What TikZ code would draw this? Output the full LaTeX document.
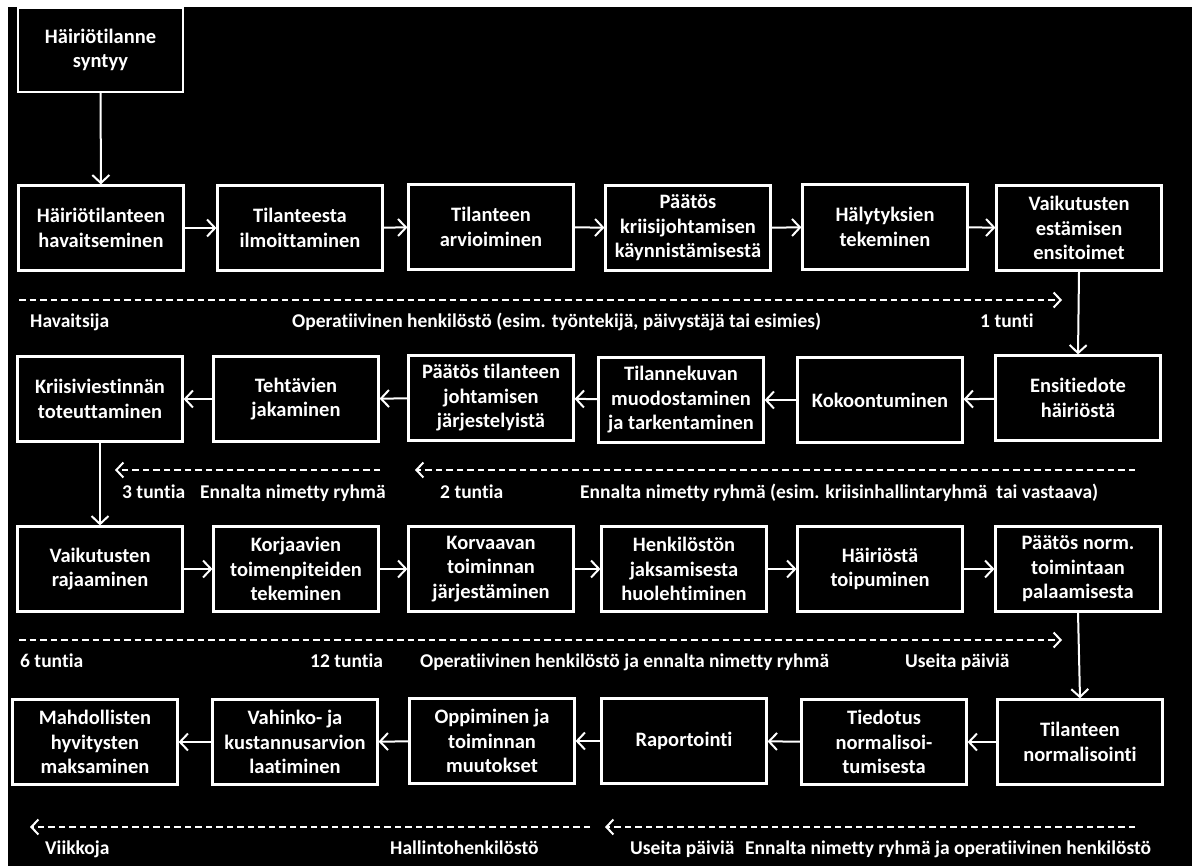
\documentclass[tikz,border=0pt]{standalone}
\usepackage{fontspec}
\setmainfont{Carlito}[Ligatures=NoCommon]
\usetikzlibrary{arrows.meta}
\begin{document}
\begin{tikzpicture}[x=1pt,y=-1pt,
  stepbox/.style={draw=white, line width=2.2pt, fill=black, text=white, minimum width=165pt, minimum height=85pt, inner sep=2pt, align=center, font=\bfseries\fontsize{20.5}{24.5}\selectfont},
  flow/.style={draw=white, line width=2pt, -{Straight Barb[length=8pt,width=17pt,line width=2pt]}},
  timeline/.style={draw=white, line width=2pt, dash pattern=on 6.5pt off 4pt, -{Straight Barb[length=7pt,width=15pt,line width=2pt]}},
  lbl/.style={text=white, anchor=base west, inner sep=0pt, font=\bfseries\fontsize{19.5}{23}\selectfont}]
\useasboundingbox (0,0) rectangle (1198,866);
\fill[white] (0,0) rectangle (1198,866);
\fill[black] (8,7) rectangle (1192,866);

% top
\node[stepbox, minimum height=84pt] (s0) at (100.5,50) {Häiriötilanne\\syntyy};

% row 1
\node[stepbox] (a1) at (101,228) {Häiriötilanteen\\havaitseminen};
\node[stepbox] (a2) at (300,228) {Tilanteesta\\ilmoittaminen};
\node[stepbox] (a3) at (491,227) {Tilanteen\\arvioiminen};
\node[stepbox] (a4) at (688,228) {Päätös\\kriisijohtamisen\\käynnistämisestä};
\node[stepbox] (a5) at (885,227) {Hälytyksien\\tekeminen};
\node[stepbox] (a6) at (1079,228) {Vaikutusten\\estämisen\\ensitoimet};

% row 2
\node[stepbox] (b1) at (100,399) {Kriisiviestinnän\\toteuttaminen};
\node[stepbox] (b2) at (296,399) {Tehtävien\\jakaminen};
\node[stepbox] (b3) at (491,398) {Päätös tilanteen\\johtamisen\\järjestelyistä};
\node[stepbox] (b4) at (681,400) {Tilannekuvan\\muodostaminen\\ja tarkentaminen};
\node[stepbox] (b5) at (880,400) {Kokoontuminen};
\node[stepbox] (b6) at (1078,398) {Ensitiedote\\häiriöstä};

% row 3
\node[stepbox] (c1) at (100,569) {Vaikutusten\\rajaaminen};
\node[stepbox] (c2) at (296,569) {Korjaavien\\toimenpiteiden\\tekeminen};
\node[stepbox] (c3) at (491,569) {Korvaavan\\toiminnan\\järjestäminen};
\node[stepbox] (c4) at (684,569) {Henkilöstön\\jaksamisesta\\huolehtiminen};
\node[stepbox] (c5) at (880,569) {Häiriöstä\\toipuminen};
\node[stepbox] (c6) at (1078,569) {Päätös norm.\\toimintaan\\palaamisesta};

% row 4
\node[stepbox] (d1) at (95,742) {Mahdollisten\\hyvitysten\\maksaminen};
\node[stepbox] (d2) at (295,742) {Vahinko- ja\\kustannusarvion\\laatiminen};
\node[stepbox] (d3) at (492,741) {Oppiminen ja\\toiminnan\\muutokset};
\node[stepbox] (d4) at (684,741) {Raportointi};
\node[stepbox] (d5) at (884,742) {Tiedotus\\normalisoi-\\tumisesta};
\node[stepbox] (d6) at (1080,742) {Tilanteen\\normalisointi};

% flow arrows
\draw[flow] (s0) -- (a1);
\draw[flow] (a1) -- (a2);
\draw[flow] (a2) -- (a3);
\draw[flow] (a3) -- (a4);
\draw[flow] (a4) -- (a5);
\draw[flow] (a5) -- (a6);
\draw[flow] (a6.south) -- (b6.north);
\draw[flow] (b6) -- (b5);
\draw[flow] (b5) -- (b4);
\draw[flow] (b4) -- (b3);
\draw[flow] (b3) -- (b2);
\draw[flow] (b2) -- (b1);
\draw[flow] (b1.south) -- (c1.north);
\draw[flow] (c1) -- (c2);
\draw[flow] (c2) -- (c3);
\draw[flow] (c3) -- (c4);
\draw[flow] (c4) -- (c5);
\draw[flow] (c5) -- (c6);
\draw[flow] (c6.south) -- (d6.north);
\draw[flow] (d6) -- (d5);
\draw[flow] (d5) -- (d4);
\draw[flow] (d4) -- (d3);
\draw[flow] (d3) -- (d2);
\draw[flow] (d2) -- (d1);

% timelines
\coordinate (t1s) at (19,300);  \coordinate (t1e) at (1062,300);
\coordinate (t2s) at (380,470); \coordinate (t2e) at (115,470);
\coordinate (t3s) at (1135,470);\coordinate (t3e) at (415,470);
\coordinate (t4s) at (19,640);  \coordinate (t4e) at (1062,640);
\coordinate (t5s) at (590,827); \coordinate (t5e) at (30,827);
\coordinate (t6s) at (1135,827);\coordinate (t6e) at (605,827);
\draw[timeline] (t1s) -- (t1e);
\draw[timeline] (t2s) -- (t2e);
\draw[timeline] (t3s) -- (t3e);
\draw[timeline] (t4s) -- (t4e);
\draw[timeline] (t5s) -- (t5e);
\draw[timeline] (t6s) -- (t6e);

% labels
\node[lbl] (l1) at (30,327) {Havaitsija};
\node[lbl] (l2) at (292,327) {Operatiivinen henkilöstö (esim. työntekijä, päivystäjä tai esimies)};
\node[lbl] (l3) at (980,327) {1 tunti};
\node[lbl] (l4) at (122,498) {3 tuntia};
\node[lbl] (l5) at (200,498) {Ennalta nimetty ryhmä};
\node[lbl] (l6) at (440,498) {2 tuntia};
\node[lbl] (l7) at (580,498) {Ennalta nimetty ryhmä (esim. kriisinhallintaryhmä \ tai vastaava)};
\node[lbl] (l8) at (20,667) {6 tuntia};
\node[lbl] (l9) at (310,667) {12 tuntia};
\node[lbl] (l10) at (420,667) {Operatiivinen henkilöstö ja ennalta nimetty ryhmä};
\node[lbl] (l11) at (905,667) {Useita päiviä};
\node[lbl] (l12) at (45,854) {Viikkoja};
\node[lbl] (l13) at (390,854) {Hallintohenkilöstö};
\node[lbl] (l14) at (630,854) {Useita päiviä};
\node[lbl] (l15) at (745,854) {Ennalta nimetty ryhmä ja operatiivinen henkilöstö};
\end{tikzpicture}
\end{document}
